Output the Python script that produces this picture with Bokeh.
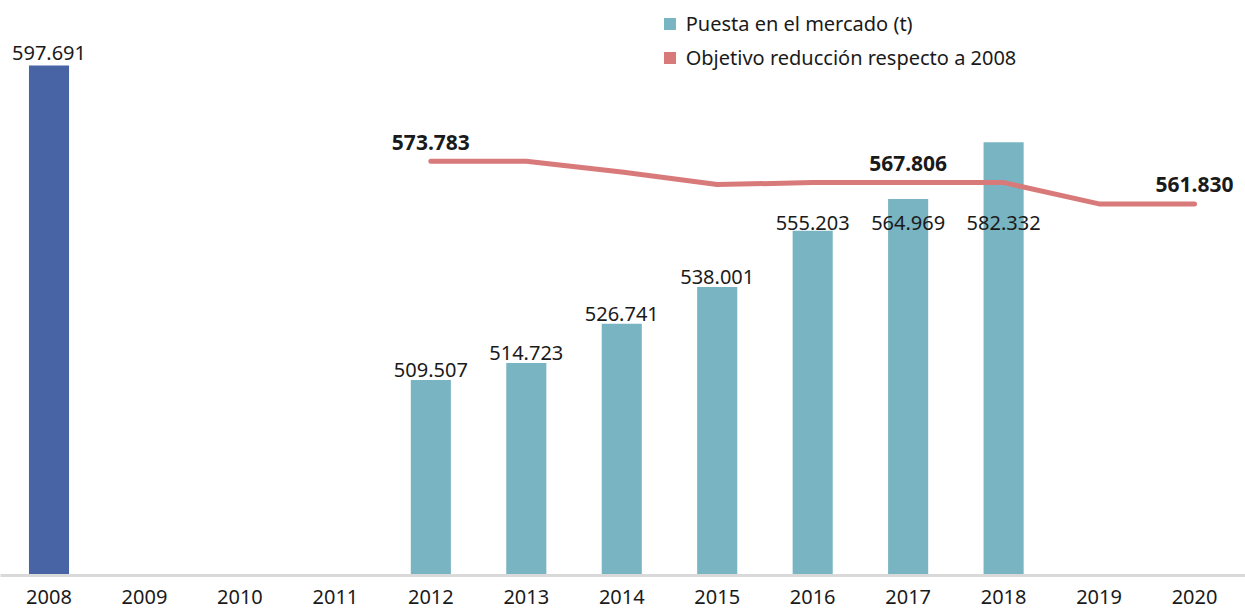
from bokeh.plotting import figure
from bokeh.models import ColumnDataSource, Range1d, FixedTicker, Legend, LegendItem
from bokeh.core.properties import value
from bokeh.embed import file_html
from bokeh.resources import INLINE

# ---------------- data ----------------
years = [2008, 2009, 2010, 2011, 2012, 2013, 2014, 2015, 2016, 2017, 2018, 2019, 2020]
tick_labels = ["2008", "2009", "2010", "2011", "2012", "2013", "2014",
               "2015", "2016", "2017", "2018", "2019", "2020"]

base_years = [2008]
base_values = [597.691]

market_years = [2012, 2013, 2014, 2015, 2016, 2017, 2018]
market_values = [509.507, 514.723, 526.741, 538.001, 555.203, 564.969, 582.332]

target_years = [2012, 2013, 2014, 2015, 2016, 2017, 2018, 2019, 2020]
target_values = [573.783, 573.783, 570.795, 567.25, 567.806, 567.806, 567.806, 561.830, 561.830]

target_label_years = [2012, 2017, 2020]
target_label_values = [573.783, 567.806, 561.830]

series_names = ["Puesta en el mercado (t)", "Objetivo reducción respecto a 2008"]

# ---------------- style ----------------
TEAL = "#78b4c1"
BLUE = "#4864a5"
RED = "#d87a7a"
TXT = "#1a1a1a"
FONT = value("Noto Sans")
LABEL_CEIL = 554.4  # bar labels kept below the target line


def fmt(v):
    return f"{v:.3f}"


p = figure(
    frame_width=1245, frame_height=575,
    x_range=Range1d(2007.4919, 2020.534),
    y_range=Range1d(449.65, 625.71),
    output_backend="svg", toolbar_location=None,
    min_border=0, min_border_left=0, min_border_right=0, min_border_top=0,
    min_border_bottom=0,
)
p.extra_y_ranges = {
    "ref": Range1d(449.65, 616.56),
    "obj": Range1d(457.44, 618.96),
}
p.outline_line_color = None
p.xgrid.visible = False
p.ygrid.visible = False
p.yaxis.visible = False
p.background_fill_color = "white"
p.border_fill_color = "white"

xa = p.xaxis[0]
xa.ticker = FixedTicker(ticks=years)
xa.major_label_overrides = {y: t for y, t in zip(years, tick_labels)}
xa.major_tick_line_color = None
xa.minor_tick_line_color = None
xa.major_tick_out = 0
xa.major_tick_in = 0
xa.major_label_standoff = 14
xa.axis_line_color = "#d9d9d9"
xa.axis_line_width = 3
xa.major_label_text_font = "Noto Sans"
xa.major_label_text_font_size = "20px"
xa.major_label_text_color = TXT

# bars
src_m = ColumnDataSource(dict(x=market_years, top=market_values,
                              ly=[min(v, LABEL_CEIL) for v in market_values],
                              lab=[fmt(v) for v in market_values]))
src_b = ColumnDataSource(dict(x=base_years, top=base_values,
                              lab=[fmt(v) for v in base_values]))

p.vbar(x="x", top="top", width=0.42, source=src_b, y_range_name="ref",
       fill_color=BLUE, line_color=None)
r_m = p.vbar(x="x", top="top", width=0.42, source=src_m,
             fill_color=TEAL, line_color=None)

# target line
src_t = ColumnDataSource(dict(x=target_years, y=target_values))
p.line("x", "y", source=src_t, y_range_name="obj", line_color=RED,
       line_width=5, line_cap="round", line_join="round")
# zero-height bars: only used to give the target series a square legend swatch
r_swatch = p.vbar(x="x", top="y", bottom="y", width=0.42, source=src_t,
                  y_range_name="obj", fill_color=RED, line_color=None)

# labels
p.text("x", "top", text="lab", source=src_b, y_range_name="ref",
       text_align="center", text_baseline="alphabetic", y_offset=-13,
       text_font=FONT, text_font_size="20px", text_color=TXT)
p.text("x", "ly", text="lab", source=src_m,
       text_align="center", text_baseline="alphabetic", y_offset=-10,
       text_font=FONT, text_font_size="20px", text_color=TXT)
src_tl = ColumnDataSource(dict(x=target_label_years, y=target_label_values,
                               lab=[fmt(v) for v in target_label_values]))
p.text("x", "y", text="lab", source=src_tl, y_range_name="obj",
       text_align="center", text_baseline="alphabetic", y_offset=-19,
       text_font=FONT, text_font_size="21px", text_font_style="bold",
       text_color=TXT)

legend = Legend(
    items=[LegendItem(label=series_names[0], renderers=[r_m]),
           LegendItem(label=series_names[1], renderers=[r_swatch])],
    location=(661.7, 504),
    orientation="vertical",
    glyph_width=15, glyph_height=15,
    label_height=20, spacing=7, label_standoff=9,
    padding=0, margin=0,
    border_line_color=None, background_fill_alpha=0,
    label_text_font="Noto Sans", label_text_font_size="20px",
    label_text_color=TXT,
)
p.add_layout(legend, "center")

open("out.html", "w").write(file_html(p, INLINE))
